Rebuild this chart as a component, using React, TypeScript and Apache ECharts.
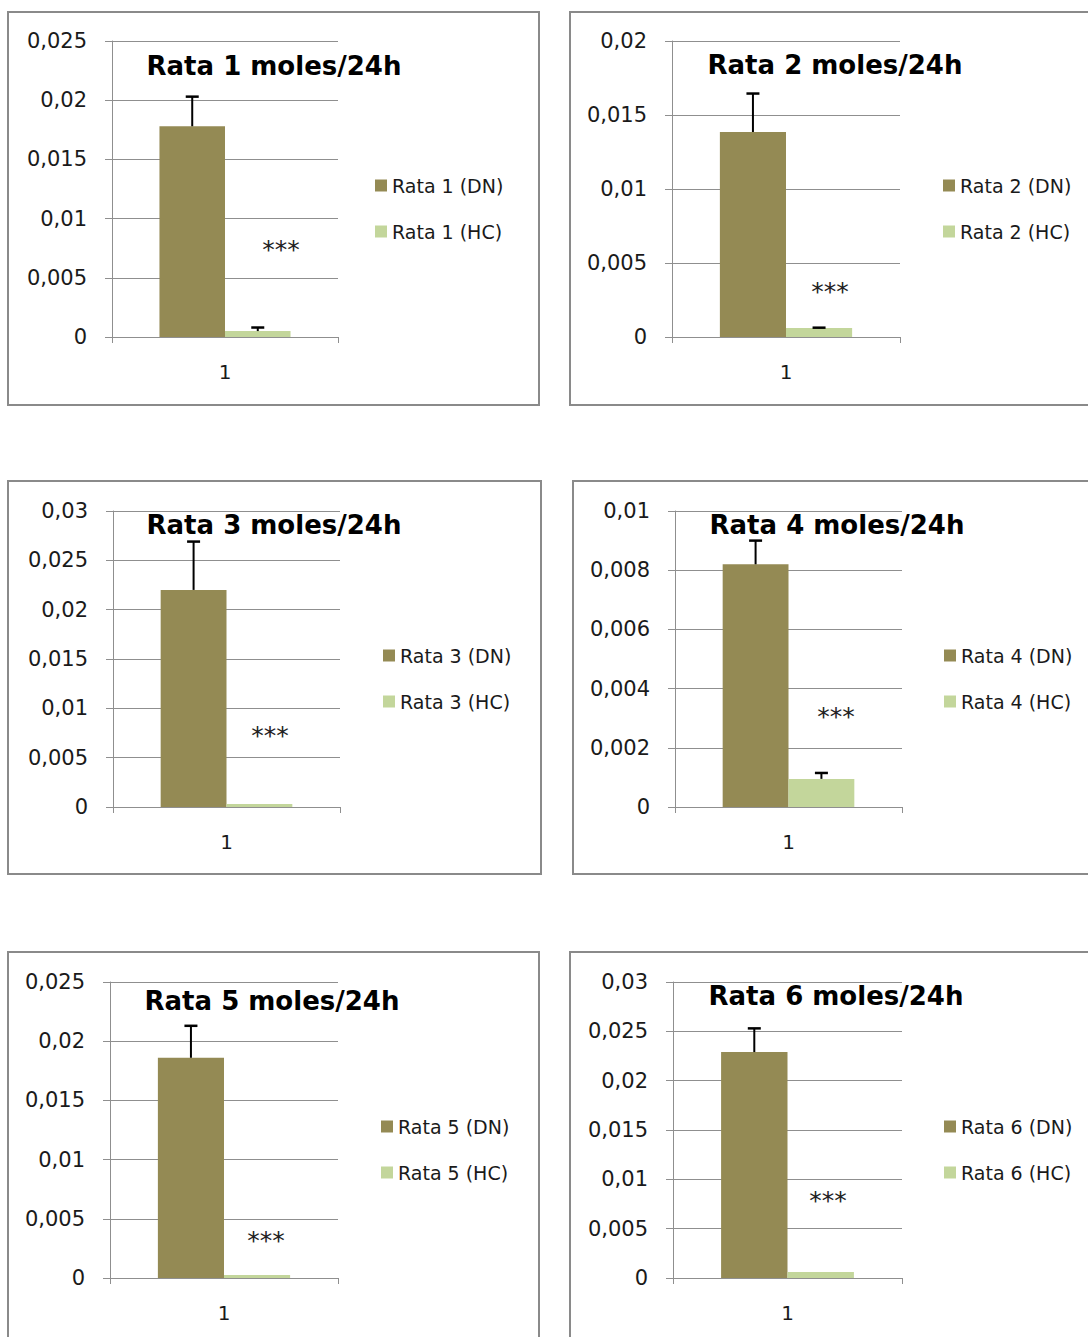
import React, { useEffect, useRef } from 'react';
import * as echarts from 'echarts';

// ---------- data ----------
const ratNames = ['Rata 1', 'Rata 2', 'Rata 3', 'Rata 4', 'Rata 5', 'Rata 6'];
const categories = ['1'];
const dnValues = [0.0178, 0.01385, 0.022, 0.0082, 0.0186, 0.0229];
const dnErrors = [0.0025, 0.0026, 0.0049, 0.0008, 0.0027, 0.0024];
const hcValues = [0.0005, 0.0006, 0.0003, 0.00095, 0.00025, 0.0006];
const hcErrors = [0.0003, 0.00003, 0, 0.0002, 0, 0];
const axisMax = [0.025, 0.02, 0.03, 0.01, 0.025, 0.03];
const axisInterval = [0.005, 0.005, 0.005, 0.002, 0.005, 0.005];
const significance = ['***', '***', '***', '***', '***', '***'];
const titleSuffix = ' moles/24h';

// ---------- layout / style ----------
const FONT = 'DejaVu Sans';
const DN_COLOR = '#948A54';
const HC_COLOR = '#C3D69B';
const GRID_COLOR = '#8f8f8f';
const BOX_COLOR = '#8a8a8a';
const CAT_GAP = 0.42;

const grids = [
  { left: 112, top: 41, width: 226, height: 296 },
  { left: 672, top: 41, width: 228, height: 296 },
  { left: 113, top: 511, width: 227, height: 296 },
  { left: 675, top: 511, width: 227, height: 296 },
  { left: 110, top: 982, width: 228, height: 296 },
  { left: 673, top: 982, width: 229, height: 296 },
];
const boxes = [
  { x: 8, y: 12, w: 531, h: 393 },
  { x: 570, y: 12, w: 530, h: 393 },
  { x: 8, y: 481, w: 533, h: 393 },
  { x: 573, y: 481, w: 530, h: 393 },
  { x: 8, y: 952, w: 531, h: 393 },
  { x: 570, y: 952, w: 530, h: 393 },
];
const titlePos = [
  [274, 66], [835, 65], [274, 525], [837, 525], [272, 1001], [836, 996],
];
const starPos = [
  [281, 249], [830, 291], [270, 735], [836, 716], [266, 1240], [828, 1200],
];
const legendPos = [
  [370, 170], [938, 170], [378, 640], [939, 640], [376, 1111], [939, 1111],
];

const fmt = (v: number) => (v === 0 ? '0' : String(Number(v.toFixed(4))).replace('.', ','));

function buildOption() {
  const grid: any[] = [];
  const xAxis: any[] = [];
  const yAxis: any[] = [];
  const series: any[] = [];
  const legend: any[] = [];
  const graphic: any[] = [];

  ratNames.forEach((rat, i) => {
    const g = grids[i];
    grid.push({ left: g.left, top: g.top, width: g.width, height: g.height, containLabel: false });
    xAxis.push({
      type: 'category',
      gridIndex: i,
      data: categories,
      boundaryGap: true,
      axisLine: { show: true, lineStyle: { color: GRID_COLOR, width: 1 } },
      axisTick: { show: true, length: 6, lineStyle: { color: GRID_COLOR } },
      axisLabel: { fontFamily: FONT, fontSize: 20, color: '#1a1a1a', margin: 25 },
      splitLine: { show: false },
    });
    yAxis.push({
      type: 'value',
      gridIndex: i,
      min: 0,
      max: axisMax[i],
      interval: axisInterval[i],
      axisLine: { show: true, lineStyle: { color: GRID_COLOR, width: 1 } },
      axisTick: { show: true, length: 7, lineStyle: { color: GRID_COLOR } },
      axisLabel: {
        fontFamily: FONT,
        fontSize: 21,
        color: '#1a1a1a',
        margin: 25,
        formatter: (v: number) => fmt(v),
      },
      splitLine: { show: true, lineStyle: { color: GRID_COLOR, width: 1 } },
    });
    const dnName = `${rat} (DN)`;
    const hcName = `${rat} (HC)`;
    series.push({
      type: 'bar',
      name: dnName,
      xAxisIndex: i,
      yAxisIndex: i,
      data: [dnValues[i]],
      itemStyle: { color: DN_COLOR },
      barGap: '0%',
      barCategoryGap: `${CAT_GAP * 100}%`,
    });
    series.push({
      type: 'bar',
      name: hcName,
      xAxisIndex: i,
      yAxisIndex: i,
      data: [hcValues[i]],
      itemStyle: { color: HC_COLOR },
      barGap: '0%',
      barCategoryGap: `${CAT_GAP * 100}%`,
    });
    const errData: any[] = [];
    if (dnErrors[i] > 0) errData.push([0, dnValues[i], dnErrors[i], -1]);
    if (hcErrors[i] > 0) errData.push([0, hcValues[i], hcErrors[i], 1]);
    series.push({
      type: 'custom',
      name: `${rat} error`,
      xAxisIndex: i,
      yAxisIndex: i,
      z: 5,
      data: errData,
      renderItem: (params: any, api: any) => {
        const cat = api.value(0);
        const v = api.value(1);
        const e = api.value(2);
        const side = api.value(3);
        const base = api.coord([cat, v]);
        const top = api.coord([cat, v + e]);
        const band = api.size([1, 0])[0];
        const barW = (band * (1 - CAT_GAP)) / 2;
        const x = base[0] + (side * barW) / 2;
        return {
          type: 'group',
          children: [
            { type: 'line', shape: { x1: x, y1: base[1], x2: x, y2: top[1] }, style: { stroke: '#000', lineWidth: 2 } },
            { type: 'line', shape: { x1: x - 6.5, y1: top[1], x2: x + 6.5, y2: top[1] }, style: { stroke: '#000', lineWidth: 2.5 } },
          ],
        };
      },
    });
    legend.push({
      orient: 'vertical',
      left: legendPos[i][0],
      top: legendPos[i][1],
      data: [dnName, hcName],
      icon: 'rect',
      itemWidth: 12,
      itemHeight: 12,
      itemGap: 25,
      selectedMode: false,
      textStyle: { fontFamily: FONT, fontSize: 19, color: '#1a1a1a', lineHeight: 21 },
    });
    const b = boxes[i];
    graphic.push({
      type: 'rect',
      shape: { x: b.x, y: b.y, width: b.w, height: b.h },
      style: { fill: 'none', stroke: BOX_COLOR, lineWidth: 2 },
      z: 0,
      silent: true,
    });
    graphic.push({
      type: 'text',
      x: titlePos[i][0],
      y: titlePos[i][1],
      style: {
        text: rat + titleSuffix,
        fontFamily: FONT,
        fontSize: 26,
        fontWeight: 'bold',
        fill: '#000',
        textAlign: 'center',
        textVerticalAlign: 'middle',
      },
      z: 10,
    });
    graphic.push({
      type: 'text',
      x: starPos[i][0],
      y: starPos[i][1],
      style: {
        text: significance[i],
        fontFamily: FONT,
        fontSize: 25,
        fill: '#222',
        textAlign: 'center',
        textVerticalAlign: 'middle',
      },
      z: 10,
    });
  });

  return {
    animation: false,
    backgroundColor: '#ffffff',
    grid,
    xAxis,
    yAxis,
    series,
    legend,
    graphic,
  };
}

export default function App() {
  const ref = useRef<HTMLDivElement>(null);
  useEffect(() => {
    if (!ref.current) return;
    const chart = echarts.init(ref.current, undefined, { renderer: 'svg' });
    chart.setOption(buildOption() as any);
    return () => chart.dispose();
  }, []);
  return (
    <div
      ref={ref}
      style={{ position: 'absolute', left: 0, top: 0, width: 1088, height: 1337, background: '#fff' }}
    />
  );
}
